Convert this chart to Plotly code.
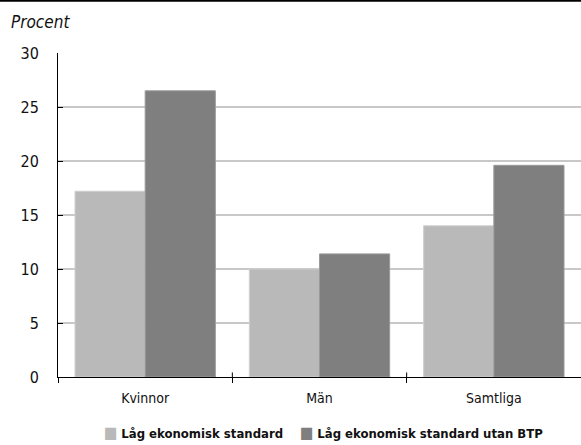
import plotly.graph_objects as go

categories = ["Kvinnor", "Män", "Samtliga"]
series_names = ["Låg ekonomisk standard", "Låg ekonomisk standard utan BTP"]
series_colors = ["#b9b9b9", "#7f7f7f"]
low_standard = [17.2, 10.0, 14.0]
low_standard_no_btp = [26.5, 11.4, 19.6]
y_ticks = [0, 5, 10, 15, 20, 25, 30]

FONT = "DejaVu Sans Condensed, Liberation Sans Narrow, sans-serif"

fig = go.Figure()
fig.add_trace(go.Bar(
    x=categories, y=low_standard, name=series_names[0],
    marker=dict(color=series_colors[0], line=dict(color="#cfcfcf", width=1)),
))
fig.add_trace(go.Bar(
    x=categories, y=low_standard_no_btp, name=series_names[1],
    marker=dict(color=series_colors[1], line=dict(color="#9a9a9a", width=1)),
))

# small upward tick halves at category boundaries
for b in [0.5, 1.5]:
    fig.add_shape(type="line", xref="x", yref="paper", x0=b, x1=b, y0=0, y1=0.014,
                  line=dict(color="black", width=1))
# rule across the top of the figure
fig.add_shape(type="line", xref="paper", yref="paper", x0=-0.2, x1=1.1,
              y0=1.161, y1=1.161, line=dict(color="black", width=2))

fig.add_annotation(text="<i>Procent</i>", xref="paper", yref="paper",
                   x=-0.094, y=1.095, xanchor="left", yanchor="middle",
                   showarrow=False, font=dict(size=17, color="#111", family=FONT))

# compact legend row: coloured square followed by the series name
legend_x = [0.084, 0.459]
for name, color, lx in zip(series_names, series_colors, legend_x):
    fig.add_annotation(
        text=f'<span style="color:{color};font-size:16px">■</span> <b>{name}</b>',
        xref="paper", yref="paper", x=lx, y=-0.17, xanchor="left", yanchor="middle",
        showarrow=False, font=dict(size=13, color="#111", family=FONT),
    )

fig.update_layout(
    width=581, height=445,
    margin=dict(l=58, r=0, t=53, b=68, autoexpand=False),
    paper_bgcolor="white", plot_bgcolor="white",
    barmode="group", bargap=0.195, bargroupgap=0,
    font=dict(family=FONT, size=14, color="#111"),
    showlegend=False,
    xaxis=dict(showline=True, linecolor="black", linewidth=1,
               ticks="outside", tickson="boundaries", ticklen=5, tickcolor="black",
               showgrid=False, tickfont=dict(size=14), ticklabelstandoff=8),
    yaxis=dict(range=[0, 30], tickvals=y_ticks, showline=True, linecolor="black",
               linewidth=1, ticks="inside", ticklen=5, tickcolor="black",
               showgrid=True, gridcolor="#c8c8c8", gridwidth=2, zeroline=False,
               ticklabelstandoff=15, tickfont=dict(size=16)),
)

fig.write_html("out.html")
